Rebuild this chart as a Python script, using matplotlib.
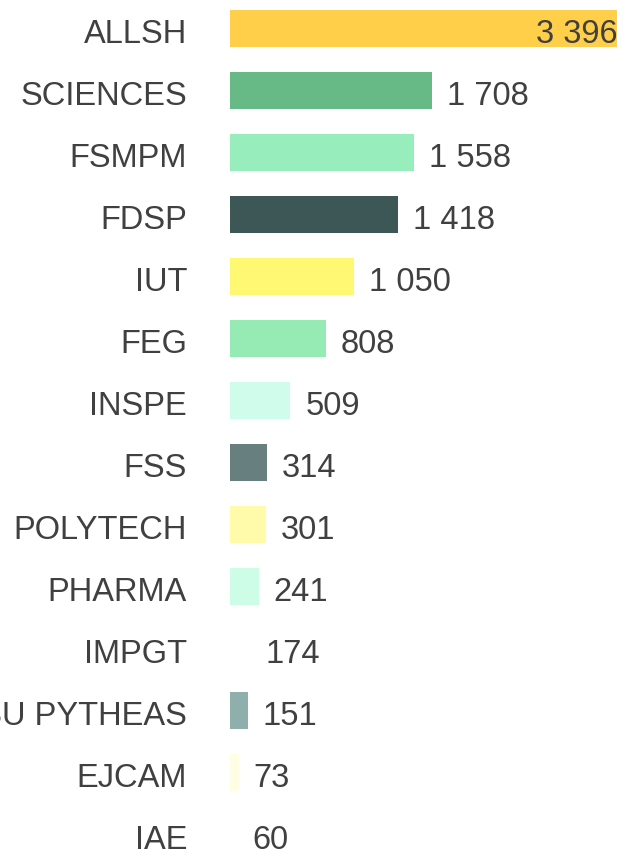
import matplotlib
matplotlib.use("Agg")
import matplotlib.pyplot as plt

categories = ["ALLSH", "SCIENCES", "FSMPM", "FDSP", "IUT", "FEG", "INSPE", "FSS",
              "POLYTECH", "PHARMA", "IMPGT", "OSU PYTHEAS", "EJCAM", "IAE"]
values = [3396, 1708, 1558, 1418, 1050, 808, 509, 314, 301, 241, 174, 151, 73, 60]
colors = ["#FFCF4A", "#67B985", "#98EDBC", "#3D5756", "#FFF873", "#96EBB5", "#D0FDEB",
          "#677F7E", "#FFFBAB", "#CDFDE6", "#FFFFFF", "#8FAFAD", "#FFFDE3", "#FFFFFF"]

plt.rcParams['font.family'] = ['Liberation Sans', 'DejaVu Sans']

W, H = 617, 851
fig = plt.figure(figsize=(W / 100, H / 100), dpi=100)
ax_left, ax_right = 230, 617
ax_top, ax_bot = -2.7, 865.3
ax = fig.add_axes([ax_left / W, (H - ax_bot) / H, (ax_right - ax_left) / W, (ax_bot - ax_top) / H])

ypos = list(range(len(categories)))
ax.barh(ypos, values, height=0.6, color=colors, edgecolor='none')
px_per_unit = 202 / 1708
ax.set_xlim(0, (ax_right - ax_left) / px_per_unit)
ax.set_ylim(len(categories) - 0.5, -0.5)

txt_color = "#404040"
fs = 23.5
dy = -6

def fmt(v):
    return f"{v:,}".replace(",", " ")

xmax = ax.get_xlim()[1]
for y, v, c in zip(ypos, values, categories):
    if v + 76 / px_per_unit > xmax:
        ax.annotate(fmt(v), (xmax, y), xytext=(0, dy), textcoords='offset pixels',
                    ha='right', va='center', fontsize=fs, color=txt_color, annotation_clip=False)
    else:
        ax.annotate(fmt(v), (v, y), xytext=(15, dy), textcoords='offset pixels',
                    ha='left', va='center', fontsize=fs, color=txt_color, annotation_clip=False)
    ax.annotate(c, (0, y), xytext=(-43, dy), textcoords='offset pixels',
                ha='right', va='center', fontsize=fs, color=txt_color, annotation_clip=False)

ax.set_yticks([])
ax.set_xticks([])
for s in ax.spines.values():
    s.set_visible(False)

fig.savefig("out.png", dpi=100)
